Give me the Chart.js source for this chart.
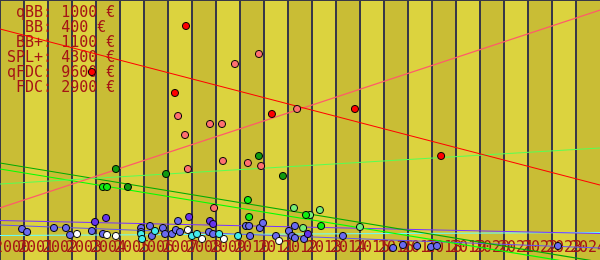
<!DOCTYPE html>
<html><head><meta charset="utf-8">
<script src="https://cdn.jsdelivr.net/npm/chart.js@4/dist/chart.umd.min.js"></script>
<style>html,body{margin:0;padding:0;background:#fff}</style>
</head><body>
<canvas id="c" width="600" height="260"></canvas>
<script>
// ---- data ----
const years = [2000,2001,2002,2003,2004,2005,2006,2007,2008,2009,2010,2011,2012,2013,2014,2015,2016,2017,2018,2019,2020,2021,2022,2023,2024];
const yearLabels = years.map(String);
const legendLines = [" qBB: 1000 €", "  BB: 400 €", " BB+: 1100 €", "SPL+: 4300 €", "qFDC: 9600 €", " FDC: 2900 €"];

const redX = [2007.75,2003.83,2007.29,2011.33,2014.79,2018.38];
const redY = [234,188,167,146,151,104];
const salmonX = [2010.79,2009.79,2007.42,2012.38,2008.75,2009.25,2007.71,2009.29,2010.33,2010.88,2007.83,2008.92];
const salmonY = [206,196,144,151,136,136,125,99,97,94,91,52];
const darkGreenX = [2004.83,2006.92,2005.33,2010.79,2011.79];
const darkGreenY = [91,86,73,104,84];
const greenX = [2004.29,2004.46,2010.33,2010.38,2012.75,2013.38];
const greenY = [73,73,60,43,45,34];
const lightGreenX = [2012.25,2012.92,2013.33,2012.63,2015.00];
const lightGreenY = [52,45,50,32,33];
const blueX = [2000.92,2001.13,2002.25,2002.75,2002.92,2003.83,2004.29,2005.88,2005.88,2006.25,2006.33,2006.79,2006.88,2007.17,2007.33,2007.5,2007.42,2008.71,2008.88,2010.25,2010.38,2010.42,2010.83,2010.96,2011.5,2012.04,2012.17,2012.29,2012.29,2012.67,2014.29,2016.38,2016.79,2017.38,2017.96,2018.21,2023.25];
const blueY = [31,28,32,32,25,29,26,32,28,34,24,32,26,26,30,28,39,28,26,34,34,24,32,37,24,29,24,22,34,21,24,12,15,14,13,14,14];
const purpleX = [2003.96,2004.42,2007.88,2008.75,2008.88,2012.83];
const purpleY = [38,42,43,39,36,26];
const cyanX = [2005.88,2005.92,2006.46,2008.0,2008.21,2009.13,2009.92];
const cyanY = [26,21,29,24,26,26,24];
const whiteX = [2003.21,2004.46,2004.83,2007.83,2008.42,2009.33,2011.63];
const whiteY = [26,25,24,30,21,21,19];

// trend lines: value at start (2000) and end (2025)
const trendX = [2000, 2025];
const redTrend = [231, 75];
const salmonTrend = [52, 250];
const lightGreenTrend = [76, 112];
const darkGreenTrend = [97, -2];
const greenTrend = [91, -7];
const purpleTrend = [39.5, 26.5];
const blueTrend = [35, 12];
const cyanTrend = [24.5, 27.5];

// ---- styling ----
const TEXT = '#a51515';
const FONT = '15px "DejaVu Sans Mono", monospace';
const zip = (xs, ys) => xs.map((x, i) => ({x, y: ys[i]}));

function pointSet(xs, ys, color) {
  return {type: 'scatter', data: zip(xs, ys), backgroundColor: color, borderColor: '#000',
    borderWidth: 1, pointRadius: 3.6, order: 1};
}
function trendSet(ys, color) {
  return {type: 'line', data: zip(trendX, ys), borderColor: color, borderWidth: 1.2,
    pointRadius: 0, fill: false, order: 2};
}

const bgPlugin = {
  id: 'bands',
  beforeDraw(chart) {
    const {ctx, chartArea: a, scales: {x}} = chart;
    ctx.save();
    years.forEach((yr, i) => {
      const l = x.getPixelForValue(yr), r = x.getPixelForValue(yr + 1);
      ctx.fillStyle = i % 2 === 0 ? '#c9bd35' : '#dcd33e';
      ctx.fillRect(l, a.top, r - l, a.bottom - a.top);
    });
    ctx.restore();
  },
  beforeDatasetsDraw(chart) {
    const {ctx, scales: {x}} = chart;
    ctx.save();
    ctx.fillStyle = '#383848';
    ctx.fillRect(0, 0, 600, 1);
    ctx.font = FONT;
    ctx.fillStyle = TEXT;
    ctx.textAlign = 'center';
    ctx.textBaseline = 'alphabetic';
    years.forEach((yr, i) => ctx.fillText(yearLabels[i], x.getPixelForValue(yr + 0.5), 252));
    ctx.textAlign = 'left';
    legendLines.forEach((t, i) => ctx.fillText(t, 7, 17 + i * 15));
    ctx.restore();
  }
};

new Chart(document.getElementById('c'), {
  data: {datasets: [
    pointSet(redX, redY, '#ff0000'),
    pointSet(salmonX, salmonY, '#ff7070'),
    pointSet(darkGreenX, darkGreenY, '#109a10'),
    pointSet(greenX, greenY, '#11ee11'),
    pointSet(lightGreenX, lightGreenY, '#77ee77'),
    pointSet(purpleX, purpleY, '#6633ee'),
    pointSet(cyanX, cyanY, '#44eeee'),
    pointSet(whiteX, whiteY, '#ffffff'),
    pointSet(blueX, blueY, '#6a6af0'),
    trendSet(redTrend, '#ff0000'),
    trendSet(salmonTrend, '#ff5a6a'),
    trendSet(lightGreenTrend, '#55ff55'),
    trendSet(darkGreenTrend, '#00aa00'),
    trendSet(greenTrend, '#00ff00'),
    trendSet(purpleTrend, '#7733ff'),
    trendSet(blueTrend, '#6655ee'),
    trendSet(cyanTrend, '#66ffff')
  ]},
  options: {
    responsive: false, animation: false, devicePixelRatio: 1,
    layout: {padding: 0, autoPadding: false},
    plugins: {legend: {display: false}, tooltip: {enabled: false}},
    scales: {
      x: {type: 'linear', min: 2000, max: 2025, display: true,
        afterBuildTicks: s => { s.ticks = years.map(v => ({value: v})); },
        ticks: {display: false},
        grid: {color: '#383848', lineWidth: 2, drawTicks: false},
        border: {display: false}},
      y: {type: 'linear', min: 0, max: 260, display: false}
    }
  },
  plugins: [bgPlugin]
});
</script>
</body></html>
